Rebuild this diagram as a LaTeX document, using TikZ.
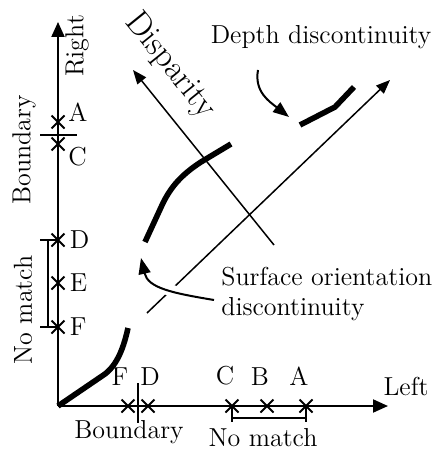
\documentclass[tikz,border=0pt]{standalone}
\usepackage{tikz}
\usetikzlibrary{arrows.meta, positioning, shapes.misc}
\tikzset{
  lbl/.style={font=\fontsize{13}{15}\selectfont, inner sep=0pt},
  big/.style={font=\fontsize{17}{19}\selectfont, inner sep=0pt},
  axis/.style={line width=1pt, -{Triangle[length=7.5pt,width=6.5pt]}},
  diag/.style={line width=0.75pt, -{Triangle[length=7pt,width=5.5pt]}},
  note/.style={line width=1pt, -{Triangle[length=8pt,width=6pt]}},
  surf/.style={line width=2.8pt},
  mk/.style={cross out, draw, line width=1pt, minimum size=5.5pt, inner sep=0pt},
  tick/.style={line width=0.8pt},
  brk/.style={line width=0.65pt}
}
\begin{document}
\begin{tikzpicture}[x=0.5pt, y=-0.5pt, every node/.style={lbl}]
  \useasboundingbox (0,0) rectangle (432,449);
  % axes
  \coordinate (o) at (58,406);
  \coordinate (ytop) at (58,22);
  \coordinate (xend) at (388,406);
  \draw[axis] (o) -- (ytop);
  \draw[axis] (o) -- (xend);
  \node[rotate=90] (right) at (77,46) {Right};
  \node (left) at (406,386) {Left};

  % samples along the right image
  \node[mk] (rA) at (58,122) {};
  \node[mk] (rC) at (58,144) {};
  \node[mk] (rD) at (58,240) {};
  \node[mk] (rE) at (58,283) {};
  \node[mk] (rF) at (58,327) {};
  \node[above right=0pt and 5pt of rA.center] (lrA) {A};
  \node[below right=1.5pt and 5pt of rC.center] (lrC) {C};
  \node[right=2.5pt of rD] (lrD) {D};
  \node[right=2.5pt of rE] (lrE) {E};
  \node[right=2.5pt of rF] (lrF) {F};
  \draw[tick] (40,135) -- (77,135);
  \node[rotate=90] (rbnd) at (24,150) {Boundary};
  \draw[brk] (40,240) -- (58,240) (48,240) -- (48,327) (40,327) -- (58,327);
  \node[rotate=90] (rnm) at (23,310) {No match};

  % samples along the left image
  \node[mk] (lF) at (128,406) {};
  \node[mk] (lD) at (148,406) {};
  \node[mk] (lC) at (232,406) {};
  \node[mk] (lB) at (267,406) {};
  \node[mk] (lA) at (306,406) {};
  \node[above=7pt of lF, xshift=-4pt] (llF) {F};
  \node[above=7pt of lD, xshift=1pt] (llD) {D};
  \node[above=7pt of lC, xshift=-3.5pt] (llC) {C};
  \node[above=7pt of lB, xshift=-3.5pt] (llB) {B};
  \node[above=7pt of lA, xshift=-3.5pt] (llA) {A};
  \draw[tick] (138,383) -- (138,423);
  \node (lbnd) at (129,432) {Boundary};
  \draw[brk] (232,406) -- (232,422) (232,418) -- (306,418) (306,406) -- (306,422);
  \node (lnm) at (263,438) {No match};

  % disparity frame
  \coordinate (d0) at (147,313);
  \coordinate (d1) at (390,80);
  \coordinate (p0) at (274,245);
  \coordinate (p1) at (133,70);
  \draw[diag] (d0) -- (d1);
  \draw[diag] (p0) -- (p1);
  \node[big, rotate=-51] (disp) at (170,66) {Disparity};

  % disparity profile
  \draw[surf] (o) -- (105,374) .. controls (118,364) and (124,346) .. (128,328);
  \draw[surf] (145,242) -- (163,203) .. controls (171,187) and (181,175) .. (201,162) -- (231,144);
  \draw[surf] (300,125) -- (335,107) -- (354,87);

  % annotations
  \node (depth) at (321,37) {Depth discontinuity};
  \coordinate (ds) at (258,70);
  \coordinate (dt) at (289,117);
  \draw[note] (ds) .. controls (254,92) and (270,102) .. (dt);
  \node[anchor=north west, align=left] (surfo) at (221,267) {Surface orientation\\discontinuity};
  \coordinate (ss) at (214,300);
  \coordinate (st) at (141,258);
  \draw[note, preaction={draw=white, line width=6pt, -}] (ss) .. controls (172,293) and (148,288) .. (st);
\end{tikzpicture}
\end{document}
